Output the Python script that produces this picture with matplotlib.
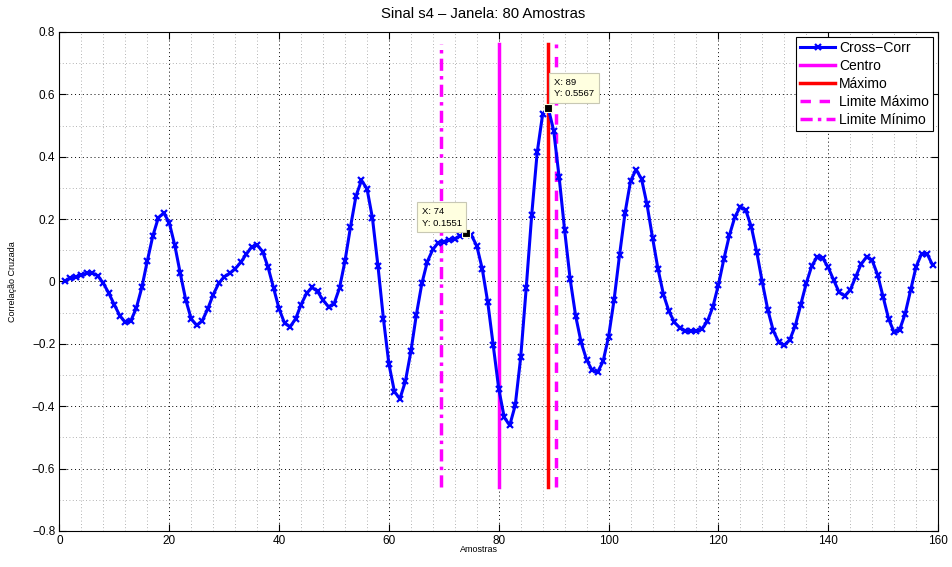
import matplotlib
matplotlib.use("Agg")
import matplotlib.pyplot as plt
import numpy as np
from matplotlib.ticker import MultipleLocator

plt.rcParams['font.family'] = ['Liberation Sans', 'DejaVu Sans']

# Cross-correlation of two 80-sample windows (159 lags, 1-based index)
lags = np.arange(1, 160)
xcorr = [
    0.002, 0.010, 0.015, 0.021, 0.026, 0.027, 0.018, -0.006, -0.038, -0.075,
    -0.110, -0.131, -0.126, -0.085, -0.019, 0.066, 0.146, 0.204, 0.220, 0.188,
    0.116, 0.026, -0.059, -0.120, -0.141, -0.126, -0.088, -0.042, -0.006, 0.015,
    0.026, 0.041, 0.061, 0.087, 0.111, 0.117, 0.096, 0.045, -0.021, -0.088,
    -0.134, -0.145, -0.120, -0.074, -0.038, -0.019, -0.032, -0.060, -0.081, -0.072,
    -0.021, 0.066, 0.175, 0.274, 0.324, 0.298, 0.203, 0.050, -0.120, -0.265,
    -0.353, -0.376, -0.320, -0.224, -0.106, -0.006, 0.064, 0.103, 0.125, 0.128,
    0.132, 0.137, 0.146, 0.1551, 0.149, 0.114, 0.040, -0.067, -0.205, -0.344,
    -0.436, -0.461, -0.397, -0.243, -0.021, 0.213, 0.414, 0.537, 0.5567, 0.484,
    0.334, 0.164, 0.008, -0.110, -0.195, -0.251, -0.285, -0.291, -0.256, -0.177,
    -0.059, 0.085, 0.220, 0.322, 0.359, 0.329, 0.247, 0.141, 0.040, -0.042,
    -0.096, -0.131, -0.149, -0.158, -0.160, -0.160, -0.152, -0.128, -0.081, -0.011,
    0.072, 0.148, 0.207, 0.240, 0.228, 0.175, 0.093, -0.003, -0.091, -0.158,
    -0.195, -0.205, -0.187, -0.142, -0.074, -0.006, 0.050, 0.079, 0.075, 0.045,
    0.004, -0.035, -0.046, -0.028, 0.015, 0.056, 0.079, 0.068, 0.021, -0.049,
    -0.120, -0.163, -0.155, -0.104, -0.028, 0.047, 0.089, 0.089, 0.053,
]

centro = 80
maximo = 89
lim_max = 90.5
lim_min = 69.5
vline_span = (-0.66, 0.76)

tips = [74, 89]

fig = plt.figure(figsize=(9.53, 5.67), dpi=100)
ax = fig.add_axes([0.0624, 0.0635, 0.9219, 0.8801])

ax.plot(lags, xcorr, color='#0000ff', lw=2.2, marker='x', ms=4.5, mew=1.6,
        label='Cross\u2212Corr', zorder=5)
ax.plot([centro, centro], vline_span, color='#ff00ff', lw=2.5, label='Centro', zorder=4)
ax.plot([maximo, maximo], vline_span, color='#ff0000', lw=2.5, label='Máximo', zorder=4)
ax.plot([lim_max, lim_max], vline_span, color='#ff00ff', lw=2.5, ls=(0, (3, 2.5)),
        label='Limite Máximo', zorder=4)
ax.plot([lim_min, lim_min], vline_span, color='#ff00ff', lw=2.5, ls=(0, (3.5, 1.5, 1, 1.5)),
        label='Limite Mínimo', zorder=4)

# data tips
vals = dict(zip(lags, xcorr))
for k, (dx, dy, ha) in zip(tips, [(-3, 4, 'right'), (4, 7, 'left')]):
    v = vals[k]
    ax.plot([k], [v], marker='s', color='black', ms=5.5, mec='#ffffe0', mew=0.8, zorder=8)
    ax.annotate(f'X: {k}\nY: {v:.4f}', xy=(k, v), xytext=(dx, dy),
                textcoords='offset points', ha=ha, va='bottom', fontsize=6.8,
                multialignment='left', linespacing=1.35, zorder=9,
                bbox=dict(boxstyle='square,pad=0.5', fc='#ffffe0', ec='#c8c8b4', lw=0.8))

ax.set_xlim(0, 160)
ax.set_ylim(-0.8, 0.8)
ax.xaxis.set_major_locator(MultipleLocator(20))
ax.xaxis.set_minor_locator(MultipleLocator(4))
ax.yaxis.set_major_locator(MultipleLocator(0.2))
ax.yaxis.set_minor_locator(MultipleLocator(0.1))
ax.set_yticklabels([f'{t:.1f}'.replace('-', '\u2212') if abs(t) > 1e-9 else '0'
                    for t in ax.get_yticks()])

ax.grid(which='major', color='black', ls=(0, (1, 3)), lw=0.7)
ax.grid(which='minor', color='#9a9a9a', ls=(0, (1, 3)), lw=0.6)
ax.set_axisbelow(True)

ax.tick_params(which='major', direction='in', length=5, width=0.8, top=True, right=True,
               labelsize=8.5, pad=3)
ax.tick_params(which='minor', length=0)
for s in ax.spines.values():
    s.set_linewidth(0.8)

ax.set_title('Sinal s4 \u2013 Janela: 80 Amostras', fontsize=10.7, x=0.482, pad=10)
ax.set_xlabel('Amostras', fontsize=6.5)
ax.xaxis.set_label_coords(0.478, -0.029)
ax.set_ylabel('Correlação Cruzada', fontsize=6.5, labelpad=11)

leg = ax.legend(loc='upper right', fontsize=10, handlelength=2.5, handletextpad=0.3,
                labelspacing=0.28, borderpad=0.3, borderaxespad=0.35, fancybox=False,
                framealpha=1, edgecolor='black')
leg.get_frame().set_linewidth(0.8)
leg.set_zorder(10)

fig.savefig('out.png', dpi=100)
